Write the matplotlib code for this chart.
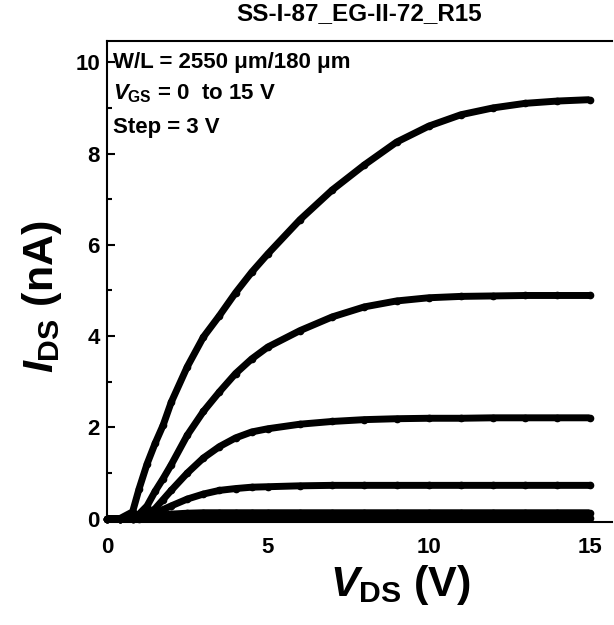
import matplotlib
matplotlib.use("Agg")
import matplotlib.pyplot as plt
from matplotlib.ticker import MultipleLocator

plt.rcParams["font.family"] = ["Liberation Sans", "DejaVu Sans"]
plt.rcParams["font.weight"] = "bold"
plt.rcParams["mathtext.fontset"] = "custom"
plt.rcParams["mathtext.rm"] = "Liberation Sans:bold"
plt.rcParams["mathtext.it"] = "Liberation Sans:italic:bold"
plt.rcParams["mathtext.bf"] = "Liberation Sans:bold"

# drain voltage sweep (V)
vds = [0, 0.4, 0.8, 1.0, 1.25, 1.5, 1.75, 2.0, 2.5, 3.0, 3.5, 4.0, 4.5, 5.0,
       6.0, 7.0, 8.0, 9.0, 10.0, 11.0, 12.0, 13.0, 14.0, 15.0]

# drain current (nA) for each gate voltage
ids_vgs15 = [0, 0, 0.15, 0.65, 1.2, 1.65, 2.05, 2.55, 3.33, 3.98, 4.45, 4.95, 5.4, 5.8,
             6.55, 7.2, 7.75, 8.25, 8.6, 8.85, 9.0, 9.1, 9.15, 9.18]
ids_vgs12 = [0, 0, 0.02, 0.1, 0.28, 0.6, 0.88, 1.18, 1.83, 2.35, 2.78, 3.18, 3.5, 3.76,
             4.12, 4.42, 4.64, 4.77, 4.84, 4.87, 4.88, 4.89, 4.89, 4.89]
ids_vgs9 = [0, 0, 0.01, 0.03, 0.1, 0.22, 0.42, 0.62, 1.0, 1.33, 1.58, 1.77, 1.9, 1.97,
            2.07, 2.13, 2.17, 2.19, 2.2, 2.2, 2.21, 2.21, 2.21, 2.21]
ids_vgs6 = [0, 0, 0, 0.01, 0.04, 0.1, 0.2, 0.28, 0.43, 0.54, 0.62, 0.66, 0.69, 0.7,
            0.72, 0.73, 0.73, 0.73, 0.73, 0.73, 0.73, 0.73, 0.73, 0.73]
ids_vgs3 = [0, 0, 0, 0, 0.02, 0.05, 0.08, 0.1, 0.12, 0.13, 0.13, 0.13, 0.13, 0.13,
            0.13, 0.13, 0.13, 0.13, 0.13, 0.13, 0.13, 0.13, 0.13, 0.13]
ids_vgs0 = [0, 0, 0, 0.01, 0.02, 0.02, 0.02, 0.02, 0.02, 0.02, 0.02, 0.02, 0.02, 0.02,
            0.02, 0.02, 0.02, 0.02, 0.02, 0.02, 0.02, 0.02, 0.02, 0.02]

curves = [ids_vgs0, ids_vgs3, ids_vgs6, ids_vgs9, ids_vgs12, ids_vgs15]

fig = plt.figure(figsize=(6.14, 6.25), dpi=100)
ax = fig.add_axes([0.174, 0.165, 0.823, 0.769])

for ids in curves:
    ax.plot(vds, ids, color="black", linewidth=5, marker="o", markersize=4.5,
            solid_capstyle="butt", clip_on=False)

ax.set_xlim(0, 15.7)
ax.set_ylim(-0.07, 10.46)
ax.xaxis.set_major_locator(MultipleLocator(5))
ax.yaxis.set_major_locator(MultipleLocator(2))
ax.yaxis.set_minor_locator(MultipleLocator(1))
ax.tick_params(which="both", direction="in", width=1.5, labelsize=16)
ax.tick_params(which="major", length=6)
ax.tick_params(which="minor", length=3.5)
ax.tick_params(axis="x", pad=11)
ax.tick_params(axis="y", pad=5)
for lbl in ax.get_xticklabels() + ax.get_yticklabels():
    lbl.set_fontweight("bold")

for s in ["left", "bottom", "top"]:
    ax.spines[s].set_linewidth(1.5)
ax.spines["right"].set_visible(False)

ax.set_xlabel(r"$V_{\rm DS}$ (V)", fontsize=31, fontweight="bold")
ax.xaxis.set_label_coords(0.58, -0.085)
ax.set_ylabel(r"$I_{\rm DS}$ (nA)", fontsize=31, fontweight="bold")
ax.yaxis.set_label_coords(-0.085, 0.468)
ax.set_title("SS-I-87_EG-II-72_R15", fontsize=17.5, fontweight="bold", pad=15)

ax.text(0.012, 0.956, "W/L = 2550 \u03bcm/180 \u03bcm", transform=ax.transAxes,
        fontsize=16, fontweight="bold", va="center", ha="left")
ax.text(0.012, 0.89, r"$V_{\rm GS}$ = 0  to 15 V", transform=ax.transAxes,
        fontsize=16, fontweight="bold", va="center", ha="left")
ax.text(0.012, 0.821, "Step = 3 V", transform=ax.transAxes,
        fontsize=16, fontweight="bold", va="center", ha="left")

fig.savefig("out.png", dpi=100)
